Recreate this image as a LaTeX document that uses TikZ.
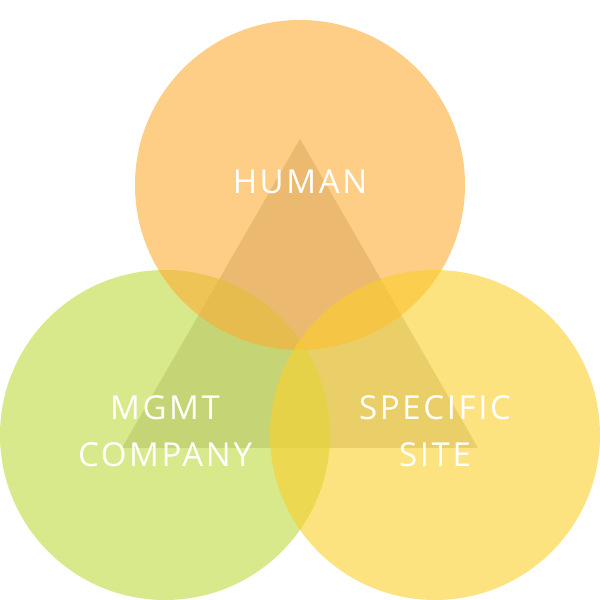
\documentclass[tikz,border=0pt]{standalone}
\usepackage{fontspec}
\setmainfont[LetterSpace=8]{Open Sans}
\definecolor{cgreen}{RGB}{190,218,63}
\definecolor{cyellow}{RGB}{252,208,43}
\definecolor{corange}{RGB}{253,172,53}
\definecolor{ctri}{RGB}{208,206,200}
\begin{document}
\begin{tikzpicture}[x=1pt,y=1pt,
  circ/.style={circle, minimum size=330pt, inner sep=0pt, fill opacity=0.6},
  lbl/.style={text=white, align=center, font=\fontsize{33}{47}\selectfont, inner sep=0pt}]
\useasboundingbox (0,0) rectangle (600,600);
\coordinate (ta) at (300,461);
\coordinate (tl) at (122,152);
\coordinate (tr) at (478,152);
\fill[ctri] (ta) -- (tl) -- (tr) -- cycle;
\node[circ, fill=cgreen] (mgmt) at (165,165) {};
\node[circ, fill=corange] (human) at (300,415) {};
\node[circ, fill=cyellow] (site) at (435,165) {};
\node[lbl] (th) at (300,418) {HUMAN};
\node[lbl] (tm) at (165,169) {MGMT\\COMPANY};
\node[lbl] (ts) at (435,169) {SPECIFIC\\SITE};
\end{tikzpicture}
\end{document}
